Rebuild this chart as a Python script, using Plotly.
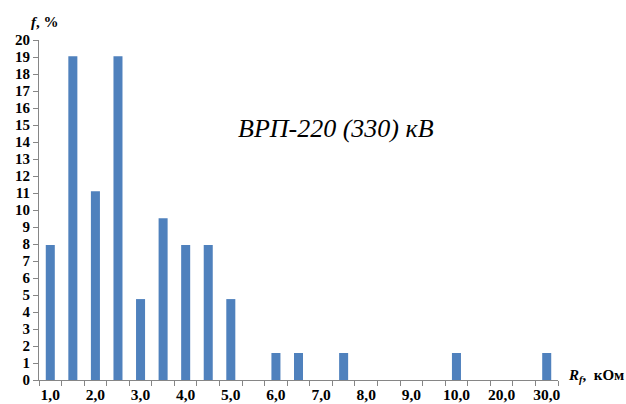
import plotly.graph_objects as go

categories = ["1,0", "1,5", "2,0", "2,5", "3,0", "3,5", "4,0", "4,5", "5,0", "5,5",
              "6,0", "6,5", "7,0", "7,5", "8,0", "8,5", "9,0", "9,5", "10,0", "15,0",
              "20,0", "25,0", "30,0"]
values = [7.94, 19.05, 11.11, 19.05, 4.76, 9.52, 7.94, 7.94, 4.76, 0,
          1.59, 1.59, 0, 1.59, 0, 0, 0, 0, 1.59, 0,
          0, 0, 1.59]
tick_labels = ["1,0", "", "2,0", "", "3,0", "", "4,0", "", "5,0", "",
               "6,0", "", "7,0", "", "8,0", "", "9,0", "", "10,0", "",
               "20,0", "", "30,0"]
y_ticks = list(range(0, 21))

FONT = "Liberation Serif"

fig = go.Figure()
fig.add_trace(go.Bar(x=categories, y=values, marker=dict(color="#4F81BD", line=dict(width=0))))

fig.update_layout(
    width=626, height=404,
    margin=dict(l=39, r=68, t=40, b=24),
    plot_bgcolor="white", paper_bgcolor="white",
    bargap=0.6,
    showlegend=False,
    font=dict(family=FONT, size=13, color="black"),
)
fig.update_xaxes(
    type="category", tickmode="array", tickvals=categories, ticktext=tick_labels,
    tickson="boundaries", ticks="outside", ticklen=5, tickcolor="#868686",
    tickangle=0, automargin=False,
    showline=True, linecolor="#868686", linewidth=1, showgrid=False,
    tickfont=dict(family=FONT, size=15.5, color="black", weight="bold"),
)
fig.update_yaxes(
    range=[0, 20], tickmode="array", tickvals=y_ticks,
    ticks="outside", ticklen=5, tickcolor="#868686", automargin=False,
    showline=True, linecolor="#868686", linewidth=1, showgrid=False, zeroline=False,
    tickfont=dict(family=FONT, size=15, color="black", weight="bold"),
)
fig.add_annotation(
    text="<i>f</i>, %", xref="paper", yref="paper", x=0.0116, y=1.0,
    xanchor="center", yanchor="middle", yshift=18, showarrow=False,
    font=dict(family=FONT, size=15, color="black", weight="bold"),
)
fig.add_annotation(
    text="<i>R<sub>f</sub></i>,  кОм", xref="paper", yref="paper", x=1.0, y=0.0,
    xanchor="left", yanchor="middle", xshift=8, yshift=4, showarrow=False,
    font=dict(family=FONT, size=15, color="black", weight="bold"),
)
fig.add_annotation(
    text="ВРП-220 (330) кВ", xref="paper", yref="paper", x=0.572, y=0.741,
    xanchor="center", yanchor="middle", showarrow=False,
    font=dict(family=FONT, size=26, color="black", style="italic"),
)

fig.write_html("out.html", config={"displayModeBar": False},
               post_script="document.body.style.margin='0';")
